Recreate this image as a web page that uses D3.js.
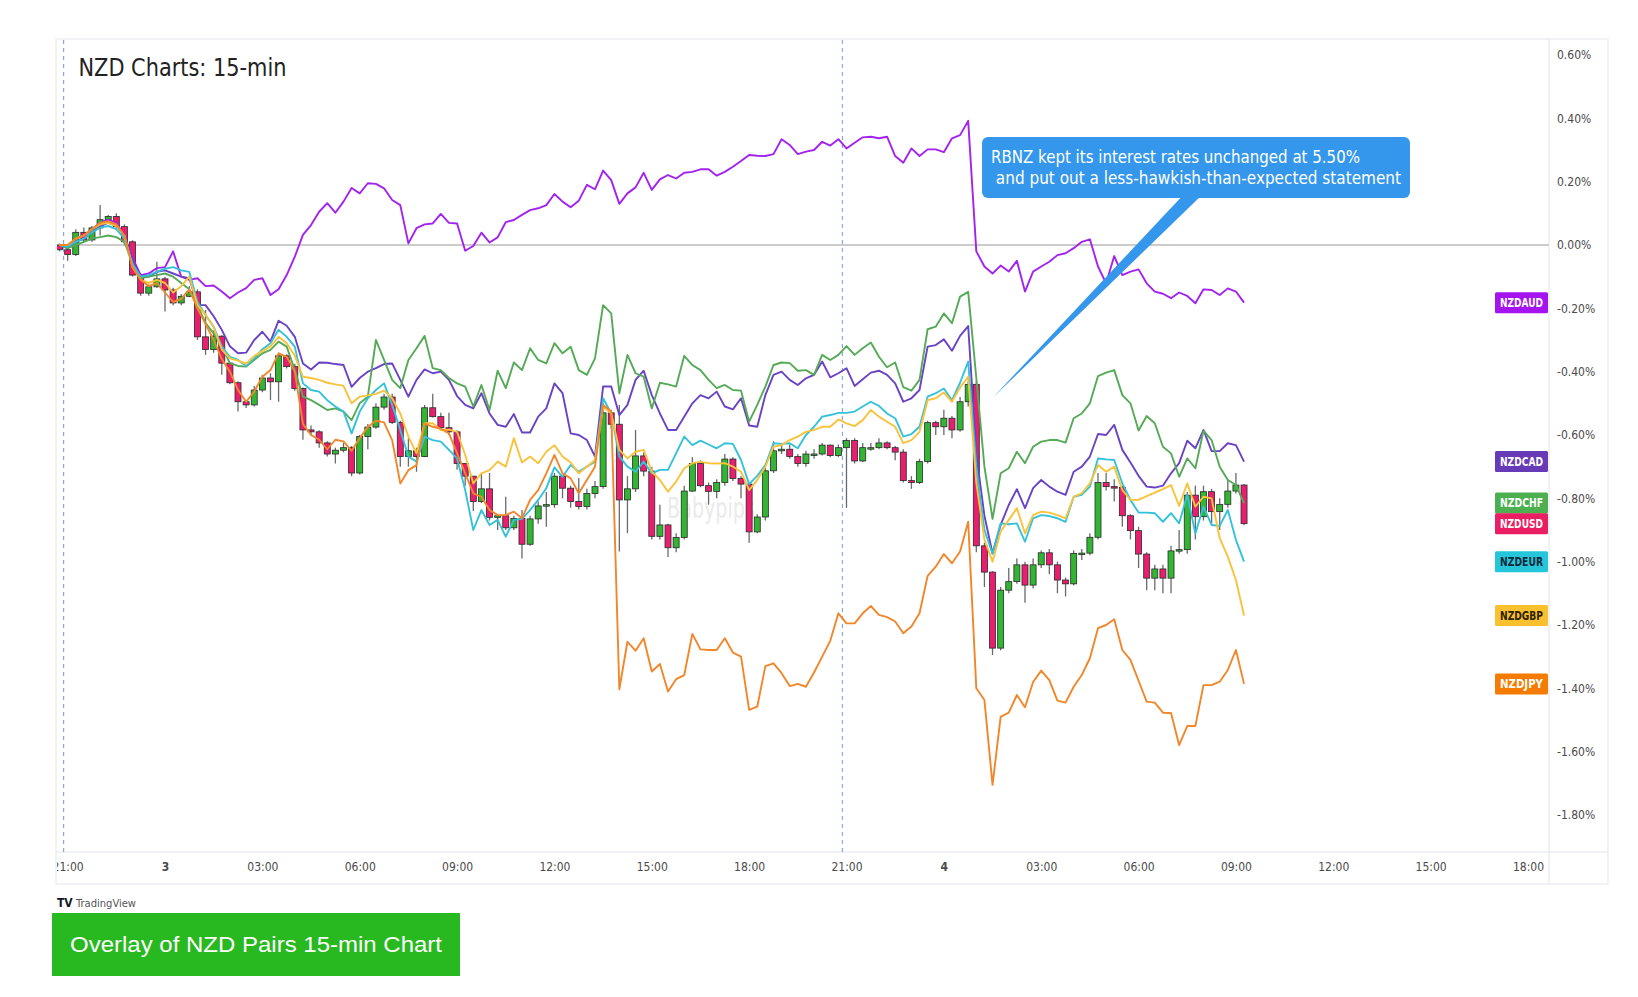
<!DOCTYPE html>
<html><head><meta charset="utf-8">
<script src="https://cdn.jsdelivr.net/npm/d3@7"></script>
<style>body{margin:0;background:#fff;} svg{display:block}</style>
</head><body>
<svg id="c" width="1638" height="997"></svg>
<script>
// ---------- DATA (percent change vs. first bar, 15-min bars from Jul 2 20:45) ----------
const firstBarHour = -3.25;   // hours relative to day "3" 00:00
const barStepHours = 0.25;

const usdOpen = [0,-0.015,-0.03,0.04,0.016,0.054,0.08,0.09,0.058,0.01,
-0.095,-0.152,-0.132,-0.107,-0.142,-0.183,-0.162,-0.148,-0.29,-0.33,
-0.288,-0.373,-0.435,-0.495,-0.505,-0.458,-0.42,-0.432,-0.35,-0.384,
-0.453,-0.584,-0.59,-0.625,-0.66,-0.648,-0.64,-0.72,-0.605,-0.575,
-0.512,-0.48,-0.56,-0.668,-0.65,-0.668,-0.514,-0.542,-0.577,-0.59,
-0.69,-0.73,-0.81,-0.77,-0.86,-0.855,-0.893,-0.864,-0.945,-0.865,
-0.824,-0.82,-0.73,-0.768,-0.81,-0.826,-0.785,-0.763,-0.53,-0.566,
-0.805,-0.77,-0.666,-0.714,-0.92,-0.884,-0.956,-0.924,-0.777,-0.69,
-0.76,-0.778,-0.75,-0.676,-0.737,-0.755,-0.906,-0.859,-0.713,-0.65,
-0.645,-0.668,-0.69,-0.66,-0.66,-0.632,-0.665,-0.64,-0.617,-0.682,
-0.64,-0.64,-0.625,-0.64,-0.654,-0.744,-0.75,-0.684,-0.561,-0.574,
-0.547,-0.584,-0.495,-0.44,-0.95,-1.033,-1.273,-1.09,-1.063,-1.01,
-1.074,-1.01,-0.972,-1.01,-1.058,-1.07,-0.974,-0.973,-0.923,-0.75,
-0.763,-0.765,-0.855,-0.902,-0.976,-1.052,-1.023,-1.052,-0.966,-0.962,
-0.79,-0.858,-0.779,-0.842,-0.819,-0.777,-0.758];
const usdClose = [-0.015,-0.03,0.04,0.016,0.054,0.08,0.09,0.058,0.01,-0.095,
-0.152,-0.132,-0.107,-0.142,-0.183,-0.162,-0.148,-0.29,-0.33,-0.288,
-0.373,-0.435,-0.495,-0.505,-0.458,-0.42,-0.432,-0.35,-0.384,-0.453,
-0.584,-0.59,-0.625,-0.66,-0.648,-0.64,-0.72,-0.605,-0.575,-0.512,
-0.48,-0.56,-0.668,-0.65,-0.668,-0.514,-0.542,-0.577,-0.59,-0.69,
-0.73,-0.81,-0.77,-0.86,-0.855,-0.893,-0.864,-0.945,-0.865,-0.824,
-0.82,-0.73,-0.768,-0.81,-0.826,-0.785,-0.763,-0.53,-0.566,-0.805,
-0.77,-0.666,-0.714,-0.92,-0.884,-0.956,-0.924,-0.777,-0.69,-0.76,
-0.778,-0.75,-0.676,-0.737,-0.755,-0.906,-0.859,-0.713,-0.65,-0.645,
-0.668,-0.69,-0.66,-0.66,-0.632,-0.665,-0.64,-0.617,-0.682,-0.64,
-0.64,-0.625,-0.64,-0.654,-0.744,-0.75,-0.684,-0.561,-0.574,-0.547,
-0.584,-0.495,-0.44,-0.95,-1.033,-1.273,-1.09,-1.063,-1.01,-1.074,
-1.01,-0.972,-1.01,-1.058,-1.07,-0.974,-0.973,-0.923,-0.75,-0.763,
-0.765,-0.855,-0.902,-0.976,-1.052,-1.023,-1.052,-0.966,-0.962,-0.79,
-0.858,-0.779,-0.842,-0.819,-0.777,-0.758,-0.88];
const usdHigh = [0.005,-0.005,0.05,0.055,0.06,0.126,0.095,0.1,0.065,0.015,
-0.09,-0.125,-0.053,-0.1,-0.135,-0.155,-0.13,-0.14,-0.205,-0.27,
-0.285,-0.37,-0.43,-0.49,-0.445,-0.41,-0.405,-0.34,-0.345,-0.375,
-0.45,-0.57,-0.585,-0.62,-0.64,-0.625,-0.635,-0.6,-0.565,-0.5,
-0.47,-0.47,-0.555,-0.61,-0.64,-0.505,-0.47,-0.53,-0.53,-0.585,
-0.69,-0.73,-0.72,-0.72,-0.85,-0.795,-0.855,-0.837,-0.855,-0.81,
-0.78,-0.72,-0.725,-0.76,-0.736,-0.77,-0.745,-0.5,-0.52,-0.505,
-0.73,-0.584,-0.655,-0.7,-0.82,-0.88,-0.91,-0.76,-0.67,-0.68,
-0.75,-0.74,-0.66,-0.67,-0.73,-0.75,-0.85,-0.7,-0.62,-0.63,
-0.63,-0.66,-0.65,-0.645,-0.625,-0.63,-0.63,-0.61,-0.61,-0.625,
-0.625,-0.61,-0.62,-0.635,-0.645,-0.73,-0.675,-0.555,-0.555,-0.52,
-0.54,-0.48,-0.43,-0.43,-0.94,-1.03,-1.08,-1.02,-0.99,-1.0,
-0.99,-0.965,-0.96,-1.0,-1.05,-0.965,-0.96,-0.91,-0.72,-0.72,
-0.74,-0.76,-0.85,-0.89,-0.97,-1.01,-1.01,-0.95,-0.9,-0.78,
-0.76,-0.76,-0.77,-0.8,-0.74,-0.72,-0.755];
const usdLow = [-0.02,-0.05,-0.035,0.01,0.01,0.03,0.075,0.05,0.0,-0.1,
-0.16,-0.16,-0.135,-0.21,-0.19,-0.19,-0.165,-0.3,-0.347,-0.34,
-0.41,-0.44,-0.526,-0.515,-0.51,-0.465,-0.49,-0.495,-0.39,-0.46,
-0.615,-0.6,-0.64,-0.668,-0.69,-0.655,-0.73,-0.725,-0.645,-0.58,
-0.52,-0.565,-0.7,-0.7,-0.716,-0.67,-0.545,-0.58,-0.6,-0.71,
-0.76,-0.84,-0.815,-0.87,-0.9,-0.9,-0.9,-0.99,-0.95,-0.88,
-0.89,-0.83,-0.8,-0.83,-0.835,-0.835,-0.8,-0.77,-0.58,-0.968,
-0.91,-0.78,-0.73,-0.93,-0.93,-0.985,-0.97,-0.93,-0.78,-0.765,
-0.82,-0.8,-0.76,-0.745,-0.8,-0.94,-0.91,-0.87,-0.72,-0.66,
-0.675,-0.7,-0.7,-0.675,-0.665,-0.67,-0.67,-0.83,-0.69,-0.685,
-0.65,-0.645,-0.645,-0.68,-0.75,-0.77,-0.755,-0.69,-0.6,-0.6,
-0.61,-0.59,-0.51,-0.97,-1.08,-1.295,-1.28,-1.1,-1.07,-1.13,
-1.085,-1.02,-1.04,-1.1,-1.11,-1.075,-0.995,-0.98,-0.93,-0.775,
-0.81,-0.89,-0.93,-1.02,-1.09,-1.09,-1.1,-1.1,-0.975,-0.975,
-0.93,-0.87,-0.88,-0.9,-0.83,-0.785,-0.885];

const nzdaud = [0,-0.01,0.02,0.03,0.05,0.07,0.08,0.07,0.03,-0.04,
-0.095,-0.09,-0.073,-0.07,-0.02,-0.1,-0.11,-0.105,-0.13,-0.128,
-0.147,-0.168,-0.15,-0.136,-0.11,-0.105,-0.158,-0.14,-0.095,-0.037,
0.032,0.063,0.105,0.132,0.102,0.137,0.18,0.163,0.195,0.193,
0.179,0.142,0.126,0.005,0.053,0.065,0.068,0.098,0.07,0.068,
-0.018,-0.003,0.039,0.008,0.024,0.072,0.079,0.095,0.11,0.116,
0.126,0.161,0.137,0.119,0.14,0.19,0.176,0.235,0.205,0.13,
0.163,0.182,0.228,0.174,0.207,0.221,0.21,0.228,0.231,0.239,
0.239,0.219,0.231,0.247,0.265,0.284,0.282,0.281,0.287,0.334,
0.316,0.287,0.295,0.3,0.326,0.314,0.334,0.305,0.323,0.34,
0.342,0.337,0.342,0.281,0.26,0.305,0.281,0.302,0.302,0.293,
0.337,0.347,0.392,-0.02,-0.068,-0.09,-0.065,-0.084,-0.05,-0.147,
-0.084,-0.068,-0.053,-0.032,-0.026,-0.01,0.01,0.018,-0.068,-0.121,
-0.035,-0.095,-0.084,-0.077,-0.121,-0.147,-0.154,-0.168,-0.15,-0.161,
-0.184,-0.14,-0.142,-0.158,-0.137,-0.147,-0.182];
const nzdcad = [0,-0.01,0.01,0.02,0.04,0.06,0.07,0.06,0.03,-0.05,
-0.1,-0.1,-0.085,-0.08,-0.09,-0.1,-0.105,-0.19,-0.19,-0.225,
-0.268,-0.32,-0.342,-0.34,-0.3,-0.274,-0.305,-0.239,-0.255,-0.29,
-0.374,-0.393,-0.371,-0.372,-0.376,-0.379,-0.448,-0.42,-0.4,-0.389,
-0.376,-0.374,-0.426,-0.479,-0.426,-0.393,-0.405,-0.4,-0.426,-0.477,
-0.505,-0.516,-0.468,-0.532,-0.568,-0.574,-0.534,-0.592,-0.592,-0.542,
-0.516,-0.437,-0.468,-0.595,-0.6,-0.616,-0.668,-0.447,-0.447,-0.537,
-0.505,-0.426,-0.397,-0.474,-0.532,-0.584,-0.584,-0.542,-0.5,-0.474,
-0.484,-0.463,-0.51,-0.519,-0.484,-0.57,-0.574,-0.474,-0.41,-0.4,
-0.426,-0.442,-0.421,-0.41,-0.368,-0.418,-0.405,-0.389,-0.445,-0.424,
-0.403,-0.397,-0.41,-0.437,-0.495,-0.484,-0.458,-0.321,-0.316,-0.298,
-0.334,-0.287,-0.256,-0.66,-0.855,-0.974,-0.884,-0.821,-0.771,-0.831,
-0.768,-0.742,-0.763,-0.779,-0.789,-0.716,-0.7,-0.668,-0.597,-0.6,
-0.568,-0.647,-0.687,-0.729,-0.763,-0.766,-0.76,-0.721,-0.689,-0.618,
-0.642,-0.584,-0.651,-0.651,-0.626,-0.632,-0.684];
const nzdchf = [0,-0.01,0.0,0.01,0.02,0.025,0.03,0.025,0.01,-0.06,
-0.105,-0.1,-0.095,-0.09,-0.1,-0.12,-0.14,-0.19,-0.247,-0.279,
-0.321,-0.373,-0.382,-0.384,-0.363,-0.342,-0.331,-0.305,-0.321,-0.395,
-0.479,-0.49,-0.505,-0.521,-0.516,-0.526,-0.553,-0.5,-0.479,-0.3,
-0.363,-0.426,-0.452,-0.363,-0.326,-0.287,-0.389,-0.395,-0.42,-0.437,
-0.447,-0.51,-0.442,-0.521,-0.397,-0.452,-0.371,-0.395,-0.326,-0.363,
-0.374,-0.31,-0.342,-0.321,-0.395,-0.41,-0.358,-0.19,-0.216,-0.468,
-0.347,-0.405,-0.416,-0.516,-0.435,-0.44,-0.447,-0.35,-0.379,-0.395,
-0.426,-0.452,-0.442,-0.458,-0.46,-0.558,-0.505,-0.447,-0.379,-0.371,
-0.373,-0.397,-0.395,-0.41,-0.347,-0.363,-0.347,-0.319,-0.347,-0.326,
-0.308,-0.353,-0.386,-0.371,-0.449,-0.46,-0.426,-0.266,-0.258,-0.216,
-0.247,-0.163,-0.148,-0.42,-0.7,-0.865,-0.721,-0.705,-0.653,-0.689,
-0.637,-0.621,-0.616,-0.616,-0.624,-0.547,-0.532,-0.5,-0.414,-0.403,
-0.395,-0.474,-0.5,-0.586,-0.54,-0.563,-0.637,-0.658,-0.732,-0.674,
-0.705,-0.586,-0.616,-0.7,-0.742,-0.758,-0.815];
const nzdeur = [0,-0.005,0.01,0.02,0.04,0.055,0.06,0.05,0.02,-0.06,
-0.1,-0.095,-0.085,-0.075,-0.07,-0.08,-0.085,-0.18,-0.221,-0.258,
-0.321,-0.353,-0.363,-0.382,-0.358,-0.329,-0.31,-0.268,-0.29,-0.321,
-0.437,-0.458,-0.463,-0.49,-0.51,-0.526,-0.595,-0.526,-0.484,-0.458,
-0.437,-0.505,-0.584,-0.668,-0.684,-0.605,-0.616,-0.621,-0.647,-0.674,
-0.774,-0.9,-0.837,-0.884,-0.868,-0.921,-0.868,-0.865,-0.837,-0.805,
-0.768,-0.702,-0.732,-0.695,-0.716,-0.7,-0.684,-0.484,-0.532,-0.668,
-0.7,-0.716,-0.684,-0.721,-0.71,-0.71,-0.658,-0.605,-0.632,-0.618,
-0.63,-0.642,-0.626,-0.628,-0.679,-0.755,-0.729,-0.695,-0.626,-0.628,
-0.626,-0.642,-0.6,-0.574,-0.542,-0.537,-0.53,-0.53,-0.526,-0.51,
-0.495,-0.508,-0.532,-0.547,-0.605,-0.597,-0.574,-0.479,-0.468,-0.453,
-0.49,-0.435,-0.368,-0.7,-0.9,-0.975,-0.879,-0.882,-0.879,-0.937,
-0.863,-0.853,-0.856,-0.863,-0.874,-0.795,-0.789,-0.763,-0.674,-0.677,
-0.679,-0.753,-0.805,-0.845,-0.845,-0.847,-0.874,-0.847,-0.879,-0.789,
-0.911,-0.826,-0.884,-0.887,-0.837,-0.931,-1.0];
const nzdgbp = [0,0.0,0.02,0.03,0.05,0.065,0.07,0.06,0.03,-0.07,
-0.11,-0.12,-0.11,-0.12,-0.15,-0.13,-0.1,-0.19,-0.22,-0.26,
-0.33,-0.358,-0.365,-0.375,-0.35,-0.335,-0.32,-0.29,-0.31,-0.35,
-0.416,-0.42,-0.426,-0.435,-0.44,-0.445,-0.5,-0.479,-0.475,-0.47,
-0.46,-0.484,-0.532,-0.605,-0.658,-0.563,-0.563,-0.584,-0.583,-0.59,
-0.663,-0.753,-0.721,-0.711,-0.684,-0.7,-0.61,-0.687,-0.668,-0.689,
-0.653,-0.632,-0.668,-0.687,-0.721,-0.7,-0.679,-0.51,-0.532,-0.647,
-0.674,-0.653,-0.647,-0.716,-0.742,-0.779,-0.747,-0.705,-0.689,-0.685,
-0.689,-0.69,-0.689,-0.7,-0.716,-0.774,-0.742,-0.7,-0.637,-0.632,
-0.616,-0.605,-0.59,-0.584,-0.574,-0.574,-0.551,-0.563,-0.572,-0.553,
-0.521,-0.542,-0.558,-0.574,-0.626,-0.616,-0.59,-0.49,-0.484,-0.466,
-0.495,-0.45,-0.416,-0.75,-0.93,-1.0,-0.905,-0.868,-0.831,-0.911,
-0.853,-0.842,-0.845,-0.853,-0.863,-0.795,-0.784,-0.753,-0.695,-0.716,
-0.7,-0.774,-0.805,-0.805,-0.793,-0.782,-0.771,-0.758,-0.824,-0.753,
-0.826,-0.795,-0.8,-0.926,-0.984,-1.058,-1.17];
const nzdjpy = [0,0.0,0.02,0.03,0.05,0.07,0.075,0.065,0.03,-0.07,
-0.11,-0.13,-0.12,-0.15,-0.18,-0.17,-0.14,-0.2,-0.25,-0.3,
-0.36,-0.4,-0.458,-0.495,-0.463,-0.416,-0.395,-0.342,-0.353,-0.4,
-0.565,-0.6,-0.615,-0.645,-0.615,-0.62,-0.65,-0.61,-0.575,-0.555,
-0.56,-0.616,-0.753,-0.711,-0.695,-0.563,-0.574,-0.58,-0.595,-0.658,
-0.721,-0.784,-0.795,-0.837,-0.853,-0.853,-0.842,-0.863,-0.805,-0.774,
-0.721,-0.663,-0.721,-0.737,-0.784,-0.742,-0.7,-0.505,-0.526,-1.403,
-1.253,-1.281,-1.242,-1.347,-1.323,-1.41,-1.371,-1.358,-1.228,-1.277,
-1.279,-1.279,-1.242,-1.287,-1.3,-1.468,-1.458,-1.33,-1.321,-1.352,
-1.393,-1.386,-1.395,-1.35,-1.3,-1.25,-1.163,-1.195,-1.195,-1.163,
-1.14,-1.168,-1.175,-1.189,-1.226,-1.205,-1.163,-1.045,-1.016,-0.976,
-1.005,-0.968,-0.874,-1.4,-1.437,-1.705,-1.49,-1.477,-1.421,-1.46,
-1.38,-1.344,-1.374,-1.439,-1.445,-1.395,-1.358,-1.305,-1.21,-1.2,
-1.182,-1.279,-1.31,-1.376,-1.442,-1.445,-1.477,-1.478,-1.579,-1.519,
-1.519,-1.39,-1.39,-1.379,-1.342,-1.279,-1.386];

const xTickHours  = [-3,0,3,6,9,12,15,18,21,24,27,30,33,36,39,42];
const xTickLabels = ["21:00","3","03:00","06:00","09:00","12:00","15:00","18:00","21:00","4","03:00","06:00","09:00","12:00","15:00","18:00"];
const yTickValues = [0.6,0.4,0.2,0,-0.2,-0.4,-0.6,-0.8,-1.0,-1.2,-1.4,-1.6,-1.8];
const yTickLabels = ["0.60%","0.40%","0.20%","0.00%","-0.20%","-0.40%","-0.60%","-0.80%","-1.00%","-1.20%","-1.40%","-1.60%","-1.80%"];
const sessionBreakHours = [-3,21];

const titleText = "NZD Charts: 15-min";
const noteLines = ["RBNZ kept its interest rates unchanged at 5.50%"," and put out a less-hawkish-than-expected statement"];
const captionText = "Overlay of NZD Pairs 15-min Chart";

// ---------- LAYOUT ----------
const svg = d3.select('#c');
const P = {left:57, right:1549, top:40, bottom:852, frameR:1608, axisB:884};
const x = d3.scaleLinear().domain([0,42]).range([165,1528]);
const y = d3.scaleLinear().domain([-1.8,0.6]).range([815,55]);
const barT = i => firstBarHour + i*barStepHours;
const barW = x(barStepHours) - x(0);
const FC = "DejaVu Sans Condensed, DejaVu Sans, sans-serif";

const defs = svg.append('defs');
defs.append('clipPath').attr('id','plotClip').append('rect')
  .attr('x',P.left).attr('y',P.top).attr('width',P.right-P.left).attr('height',P.bottom-P.top);
defs.append('clipPath').attr('id','xClip').append('rect')
  .attr('x',P.left).attr('y',0).attr('width',P.right-P.left).attr('height',P.axisB-P.bottom);

// frame
svg.append('rect').attr('x',56).attr('y',39).attr('width',P.frameR-56).attr('height',P.axisB-39)
  .attr('fill','#fff').attr('stroke','#e3e5ea').attr('stroke-width',1);
svg.append('line').attr('x1',56).attr('x2',P.frameR).attr('y1',P.bottom).attr('y2',P.bottom).attr('stroke','#e3e5ea');
svg.append('line').attr('x1',P.right).attr('x2',P.right).attr('y1',39).attr('y2',P.axisB).attr('stroke','#e3e5ea');

const plot = svg.append('g').attr('clip-path','url(#plotClip)');

// session breaks
plot.selectAll('line.sb').data(sessionBreakHours).join('line')
  .attr('x1',d=>x(d)-barW/2).attr('x2',d=>x(d)-barW/2).attr('y1',P.top).attr('y2',P.bottom)
  .attr('stroke','#86a8e0').attr('stroke-width',1.2).attr('stroke-dasharray','4,4');

// zero line
plot.append('line').attr('x1',P.left).attr('x2',P.right).attr('y1',y(0)).attr('y2',y(0))
  .attr('stroke','#cccccc').attr('stroke-width',1.8);

// watermark
plot.append('text').attr('x',667).attr('y',518).attr('font-family',FC).attr('font-size',28)
  .attr('fill','#ebebeb').attr('textLength',88).attr('lengthAdjust','spacingAndGlyphs').text('Babypips');

// candles
const bars = usdClose.map((c,i)=>({t:barT(i), o:usdOpen[i], h:usdHigh[i], l:usdLow[i], c}));
const up = '#33b534', down = '#e91e6e';
plot.append('g').selectAll('line').data(bars).join('line')
  .attr('x1',d=>x(d.t)).attr('x2',d=>x(d.t)).attr('y1',d=>y(d.h)).attr('y2',d=>y(d.l))
  .attr('stroke','#6a6a6a').attr('stroke-width',1.3);
plot.append('g').selectAll('rect').data(bars).join('rect')
  .attr('x',d=>x(d.t)-3).attr('width',6)
  .attr('y',d=>y(Math.max(d.o,d.c))).attr('height',d=>Math.max(1.5,Math.abs(y(d.o)-y(d.c))))
  .attr('fill',d=>d.c>=d.o?up:down).attr('stroke','#2a2a2a').attr('stroke-width',0.8);

// compare lines
const series = [
  {name:'NZDAUD', values:nzdaud, color:'#a322ee', tag:'#a514f0', txt:'#fff'},
  {name:'NZDCAD', values:nzdcad, color:'#6a42c4', tag:'#673ab7', txt:'#fff'},
  {name:'NZDCHF', values:nzdchf, color:'#55aa57', tag:'#4caf50', txt:'#fff'},
  {name:'NZDEUR', values:nzdeur, color:'#33c2da', tag:'#26c6da', txt:'#0d2a3a'},
  {name:'NZDGBP', values:nzdgbp, color:'#f8c33a', tag:'#fbc02d', txt:'#2b2200'},
  {name:'NZDJPY', values:nzdjpy, color:'#f2862a', tag:'#f57c00', txt:'#fff'}
];
const line = d3.line().x((d,i)=>x(barT(i))).y(d=>y(d));
plot.append('g').selectAll('path').data(series).join('path')
  .attr('d',d=>line(d.values)).attr('fill','none').attr('stroke',d=>d.color)
  .attr('stroke-width',1.9).attr('stroke-linejoin','round');

// y axis
const yAxis = svg.append('g').attr('transform',`translate(${P.right},0)`)
  .call(d3.axisRight(y).tickValues(yTickValues).tickFormat((d,i)=>yTickLabels[i]).tickSize(0).tickPadding(8));
yAxis.select('.domain').remove();
yAxis.selectAll('text').attr('font-family',FC).attr('font-size',12).attr('fill','#4a4a4a');

// x axis
const xAxis = svg.append('g').attr('transform',`translate(0,${P.bottom})`).attr('clip-path','url(#xClip)')
  .call(d3.axisBottom(x).tickValues(xTickHours).tickFormat((d,i)=>xTickLabels[i]).tickSize(0).tickPadding(10));
xAxis.select('.domain').remove();
xAxis.selectAll('text').attr('font-family',FC).attr('font-size',12).attr('fill','#4a4a4a')
  .attr('font-weight',(d,i)=>xTickLabels[i].length===1?'bold':'normal');

// right-side value tags
const tags = series.map(s=>({name:s.name, v:s.values[s.values.length-1], bg:s.tag, txt:s.txt}));
tags.push({name:'NZDUSD', v:usdClose[usdClose.length-1], bg:'#e91e63', txt:'#fff'});
const tg = svg.append('g').selectAll('g').data(tags).join('g')
  .attr('transform',d=>`translate(1495,${y(d.v)})`);
tg.append('rect').attr('x',0).attr('y',-10.5).attr('width',53).attr('height',21).attr('rx',1.5).attr('fill',d=>d.bg);
tg.append('text').attr('x',26.5).attr('y',4.3).attr('text-anchor','middle').attr('font-family',FC)
  .attr('font-size',11.5).attr('font-weight','bold').attr('fill',d=>d.txt)
  .attr('textLength',43).attr('lengthAdjust','spacingAndGlyphs').text(d=>d.name);

// title
svg.append('text').attr('x',78.5).attr('y',76).attr('font-family',FC).attr('font-size',25.5)
  .attr('fill','#222').attr('textLength',208).attr('lengthAdjust','spacingAndGlyphs').text(titleText);

// annotation callout
const note = svg.append('g');
note.append('path').attr('d','M1186,192 L1205,192 L992.5,398 Z').attr('fill','#3597eb');
note.append('rect').attr('x',982).attr('y',137).attr('width',428).attr('height',61).attr('rx',6).attr('fill','#3597eb');
note.append('text').attr('x',991).attr('y',163).attr('font-family',FC).attr('font-size',17)
  .attr('fill','#fff').attr('textLength',369).attr('lengthAdjust','spacingAndGlyphs').text(noteLines[0]);
note.append('text').attr('x',991).attr('y',184).attr('font-family',FC).attr('font-size',17).attr('xml:space','preserve')
  .attr('fill','#fff').attr('textLength',410).attr('lengthAdjust','spacingAndGlyphs').text(noteLines[1]);

// TradingView mark
svg.append('text').attr('x',57).attr('y',907).attr('font-family',FC).attr('font-size',12).attr('font-weight','bold')
  .attr('fill','#131722').text('TV');
svg.append('text').attr('x',76).attr('y',907).attr('font-family',FC).attr('font-size',11)
  .attr('fill','#555').attr('textLength',60).attr('lengthAdjust','spacingAndGlyphs').text('TradingView');

// caption
svg.append('rect').attr('x',52).attr('y',913).attr('width',408).attr('height',63).attr('fill','#28b81f');
svg.append('text').attr('x',70).attr('y',952).attr('font-family','Liberation Sans, Arial, sans-serif').attr('font-size',22)
  .attr('fill','#fff').attr('textLength',372).attr('lengthAdjust','spacingAndGlyphs').text(captionText);
</script>
</body></html>
